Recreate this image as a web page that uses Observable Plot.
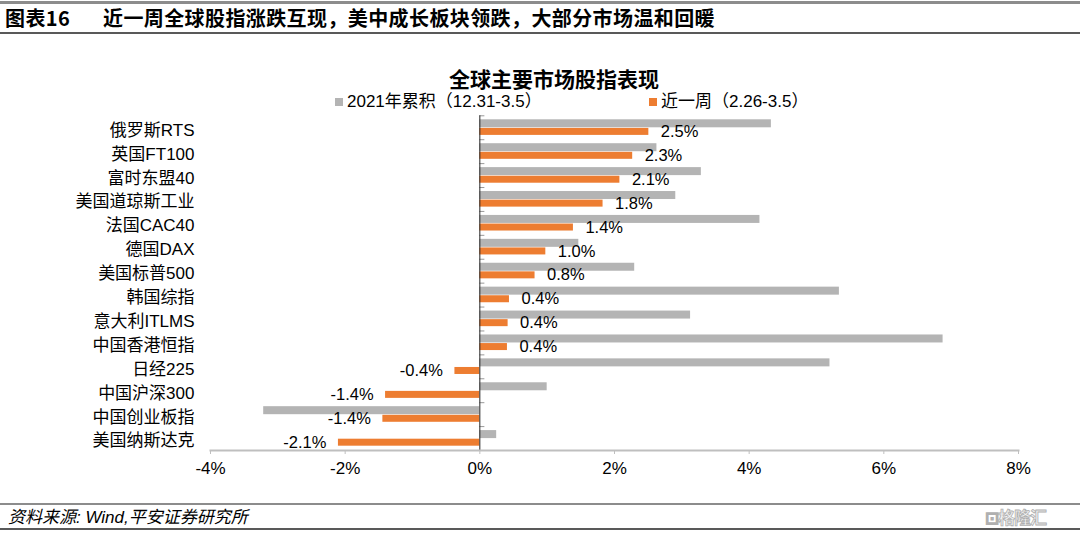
<!DOCTYPE html>
<html>
<head>
<meta charset="utf-8">
<script src="https://cdn.jsdelivr.net/npm/d3@7"></script>
<script src="https://cdn.jsdelivr.net/npm/@observablehq/plot@0.6"></script>
<style>
  html, body { margin: 0; padding: 0; background: #fff; }
  #wrap { position: relative; width: 1080px; height: 536px; overflow: hidden; background: #fff;
          font-family: "Liberation Sans", Arial, "Noto Sans CJK SC", sans-serif; color: #000; }
  .abs { position: absolute; white-space: nowrap; }
  #topline { left: 0; top: 1px; width: 1080px; height: 3px; background: #8c8c8c; }
  #headline { left: 0; top: 32px; width: 1080px; height: 2px; background: #595959; }
  #head { left: 5px; top: 6px; font: bold 20px "Noto Sans CJK SC", sans-serif; line-height: 24px; letter-spacing: 0.4px; }
  #head span { display: inline-block; }
  #title { left: 0; width: 1108px; top: 64px; text-align: center; font: bold 21px "Noto Sans CJK SC", sans-serif; line-height: 28px; }
  .sw { width: 8px; height: 8px; }
  .lg { font-size: 17px; line-height: 20px; }
  #chart { left: 0; top: 40px; line-height: 0; }
  #chart svg { display: block; }
  #footline1 { left: 0; top: 503px; width: 1080px; height: 2px; background: #8c8c8c; }
  #footline2 { left: 0; top: 528px; width: 1080px; height: 2px; background: #595959; }
  #source { left: 8px; top: 507px; font-size: 17px; font-style: italic; line-height: 21px; }
  #wm { left: 985px; top: 506px; font: bold 17px "Noto Sans CJK SC", sans-serif; color: #f2f2f2;
        -webkit-text-stroke: 0.8px #b0b0b0; line-height: 22px; letter-spacing: -1px; }
</style>
</head>
<body>
<div id="wrap">
  <div class="abs" id="topline"></div>
  <div class="abs" id="head"><span style="width:98px">图表16</span><span>近一周全球股指涨跌互现，美中成长板块领跌，大部分市场温和回暖</span></div>
  <div class="abs" id="headline"></div>
  <div class="abs" id="title">全球主要市场股指表现</div>
  <div class="abs sw" style="left:335px;top:98px;background:#b4b4b4"></div>
  <div class="abs lg" style="left:347px;top:92px">2021年累积（12.31-3.5）</div>
  <div class="abs sw" style="left:649px;top:98px;background:#ed7d31"></div>
  <div class="abs lg" style="left:661px;top:92px">近一周（2.26-3.5）</div>
  <div class="abs" id="chart"></div>
  <div class="abs" id="footline1"></div>
  <div class="abs" id="source">资料来源: Wind,平安证券研究所</div>
  <div class="abs" id="wm">⊡格隆汇</div>
  <div class="abs" id="footline2"></div>
</div>
<script>
const names = ["俄罗斯RTS", "英国FT100", "富时东盟40", "美国道琼斯工业", "法国CAC40", "德国DAX", "美国标普500",
  "韩国综指", "意大利ITLMS", "中国香港恒指", "日经225", "中国沪深300", "中国创业板指", "美国纳斯达克"];
const ytd = [4.33, 2.63, 3.29, 2.91, 4.16, 1.47, 2.30, 5.34, 3.13, 6.88, 5.20, 1.00, -3.21, 0.25];
const week = [2.51, 2.27, 2.08, 1.83, 1.39, 0.98, 0.82, 0.44, 0.42, 0.41, -0.37, -1.40, -1.44, -2.10];
const xTicks = [-4, -2, 0, 2, 4, 6, 8];

const rowsYtd = names.map((n, i) => ({name: n, v: ytd[i]}));
const rowsWeek = names.map((n, i) => ({name: n, v: week[i]}));

const plotH = 460, mTop = 75.3, mBottom = 50;
const band = (plotH - mTop - mBottom) / names.length;

const chart = Plot.plot({
  width: 1080,
  height: plotH,
  marginTop: mTop,
  marginBottom: mBottom,
  marginLeft: 210,
  marginRight: 62,
  style: {fontFamily: '"Liberation Sans", Arial, "Noto Sans CJK SC", sans-serif', fontSize: "17px", color: "#000", background: "transparent"},
  x: {domain: [-4, 8]},
  y: {domain: names, padding: 0, round: false},
  marks: [
    Plot.barX(rowsYtd, {y: "name", x: "v", fill: "#b4b4b4", insetTop: 4, insetBottom: band - 12}),
    Plot.barX(rowsWeek, {y: "name", x: "v", fill: "#ed7d31", insetTop: 12.6, insetBottom: band - 19.6}),
    Plot.ruleY(names, {y: d => d, x1: 0, x2: 0.075, dy: -band / 2, stroke: "#999", strokeWidth: 1}),
    Plot.ruleX([0], {stroke: "#222", strokeWidth: 1}),
    Plot.frame({anchor: "bottom", stroke: "#bfbfbf", strokeWidth: 2}),
    Plot.text(rowsWeek.filter(d => d.v >= 0), {y: "name", x: "v", text: d => d.v.toFixed(1) + "%",
      textAnchor: "start", dx: 12, dy: 4, fontSize: 16.5, fill: "#000"}),
    Plot.text(rowsWeek.filter(d => d.v < 0), {y: "name", x: "v", text: d => d.v.toFixed(1) + "%",
      textAnchor: "end", dx: -12, dy: 4, fontSize: 16.5, fill: "#000"}),
    Plot.axisY({tickSize: 0, tickPadding: 16, label: null, fontSize: 17, dy: 2.5}),
    Plot.axisX({ticks: xTicks, tickFormat: d => d + "%", tickSize: 4, tickPadding: 7, stroke: "#bfbfbf", label: null, fontSize: 17})
  ]
});
document.getElementById("chart").appendChild(chart);
</script>
</body>
</html>
